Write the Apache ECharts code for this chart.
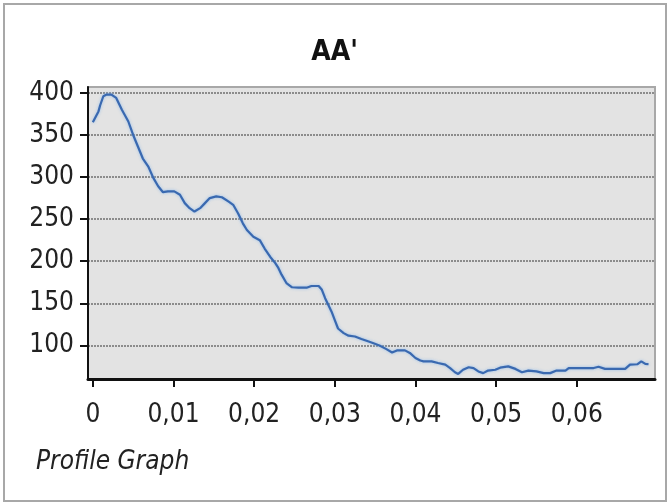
<!DOCTYPE html>
<html>
<head>
<meta charset="utf-8">
<script src="https://cdn.jsdelivr.net/npm/echarts@6/dist/echarts.min.js"></script>
<style>
html,body{margin:0;padding:0;background:#fff;}
#chart{width:669px;height:504px;}
</style>
</head>
<body>
<div id="chart"></div>
<script>
var title = "AA'";
var footer = "Profile Graph";
var distance = [0,0.0007,0.0009,0.0013,0.0017,0.0023,0.0029,0.0036,0.0044,0.005,0.0056,0.0062,0.0069,0.0075,0.0081,0.0087,0.0093,0.0101,0.0108,0.0114,0.012,0.0126,0.0133,0.0139,0.0145,0.0153,0.016,0.0168,0.0174,0.018,0.0186,0.0191,0.0199,0.0207,0.0213,0.022,0.0226,0.023,0.0234,0.024,0.0247,0.0255,0.0265,0.0271,0.028,0.0284,0.0288,0.0292,0.0296,0.03,0.0304,0.0311,0.0317,0.0325,0.0333,0.0342,0.0348,0.0356,0.0364,0.0371,0.0377,0.0387,0.0393,0.04,0.0406,0.041,0.042,0.0428,0.0437,0.0443,0.0449,0.0453,0.0459,0.0466,0.0472,0.0478,0.0484,0.049,0.0499,0.0505,0.0515,0.0524,0.0532,0.054,0.055,0.0559,0.0567,0.0575,0.0586,0.059,0.0613,0.0621,0.0627,0.0635,0.065,0.066,0.0666,0.0675,0.068,0.0685,0.0689];
var elevation = [365,378,385,396,398,398,394,380,366,350,336,322,312,299,289,282,283,283,279,269,263,259,263,269,275,277,276,271,267,257,245,237,229,225,215,205,198,192,184,174,169,168.5,168.5,170.5,170.5,166,156,148,140,130,120,114.5,111.5,110.5,107.5,104.5,102.5,99.5,95.5,91.5,94,94,91,85,82,81,81,79,77,73,68,66,71,74,73,69,67,70,71,73.5,75,72,68,70,69,67,67,70,70,73,73,73,74.5,72,72,72,77,77.5,81,78,77.5];
var xTicks = [0,0.01,0.02,0.03,0.04,0.05,0.06];
var yTicks = [100,150,200,250,300,350,400];

var FONT = "'DejaVu Sans Condensed','Liberation Sans Narrow',sans-serif";
var pts = distance.map(function(d,i){return [d, elevation[i]];});

var chart = echarts.init(document.getElementById('chart'), null, {renderer:'canvas'});
chart.setOption({
  animation:false,
  backgroundColor:'#ffffff',
  title:{
    text:title, left:'center', top:34,
    textStyle:{fontFamily:FONT, fontSize:28, fontWeight:'bold', color:'#111'}
  },
  graphic:[
    {type:'rect', shape:{x:4,y:4,width:662,height:497}, style:{fill:null, stroke:'#a8a8a8', lineWidth:2}, silent:true, z:-1},
    {type:'text', left:36, top:449, style:{text:footer, fontFamily:FONT, fontSize:26, fontStyle:'italic', fill:'#222'}}
  ],
  grid:{left:88, right:14, top:87, height:292, show:true, backgroundColor:'#e3e3e3', borderColor:'#a8a8a8', borderWidth:2},
  xAxis:{
    type:'value', min:-0.0006, max:0.0697,
    axisLine:{show:true, onZero:false, lineStyle:{color:'#111', width:3}},
    axisTick:{show:true, length:8, lineStyle:{color:'#111', width:2}, customValues:xTicks},
    axisLabel:{customValues:xTicks, margin:23, fontFamily:FONT, fontSize:26, color:'#222',
      formatter:function(v){return String(+v.toFixed(2)).replace('.',',');}},
    splitLine:{show:false}
  },
  yAxis:{
    type:'value', min:60, max:407,
    axisLine:{show:true, onZero:false, lineStyle:{color:'#111', width:2}},
    axisTick:{show:true, length:8, lineStyle:{color:'#111', width:2}, customValues:yTicks},
    axisLabel:{customValues:yTicks, margin:14, fontFamily:FONT, fontSize:26, color:'#222'},
    splitLine:{show:true, lineStyle:{color:'#8c8c8c', width:2, type:[2,1]}}
  },
  series:[{
    type:'line', data:pts, showSymbol:false, smooth:false,
    lineStyle:{color:'#3a69b0', width:2.2, shadowColor:'rgba(140,185,235,0.9)', shadowBlur:3}
  }]
});
</script>
</body>
</html>
